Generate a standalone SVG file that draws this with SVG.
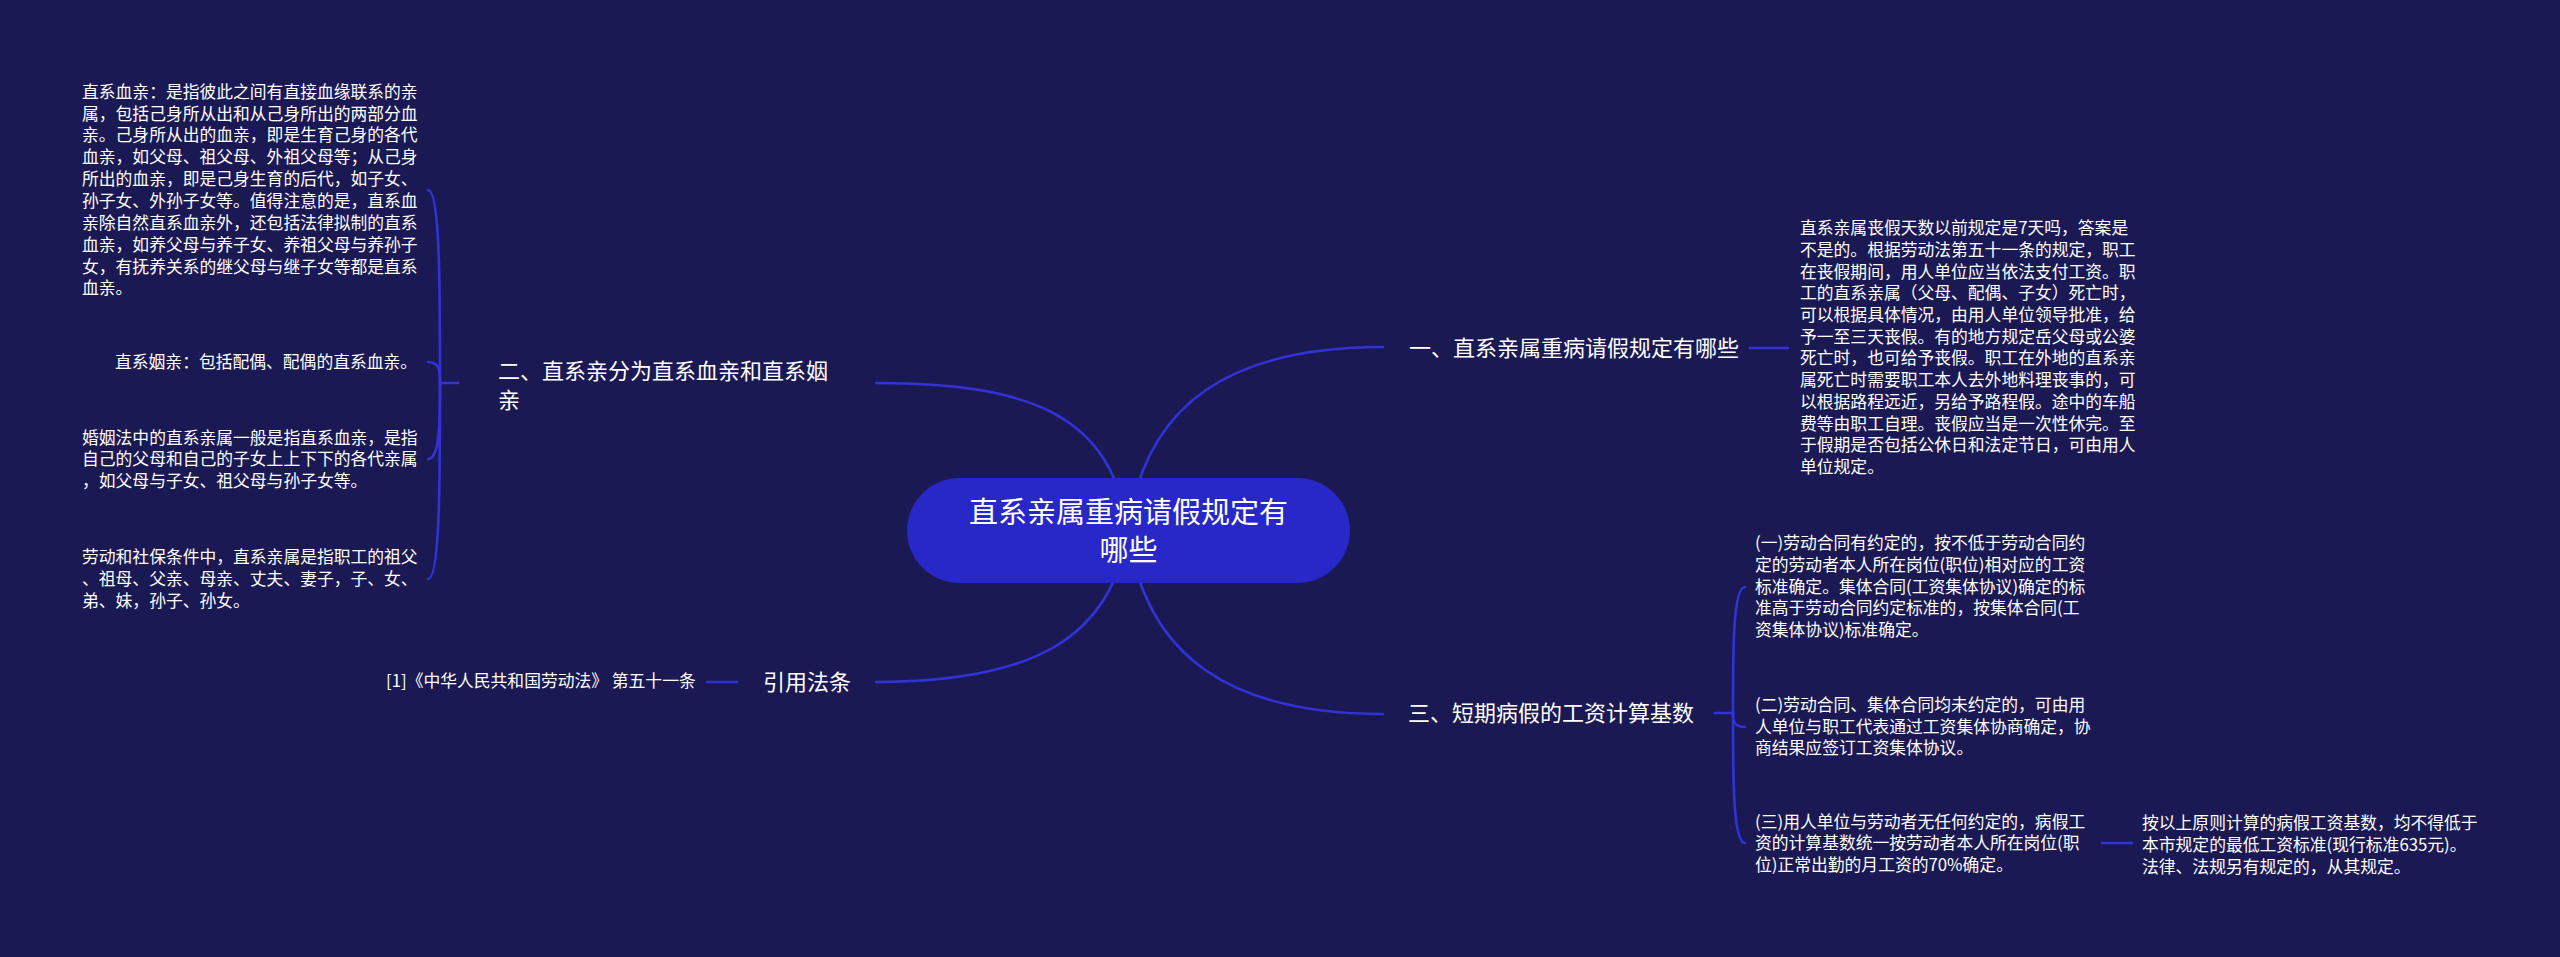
<svg xmlns="http://www.w3.org/2000/svg" width="2560" height="957" viewBox="0 0 2560 957">
<style>
.ln{fill:none;stroke:#3233d6;stroke-width:2.6;stroke-linecap:round}
.t{fill:#ffffff;font-family:"Noto Sans CJK SC","Liberation Sans",sans-serif}
.s{font-size:16.8px}
.m{font-size:22px}
.c{font-size:29px}
</style>
<rect x="0" y="0" width="2560" height="957" fill="#1b1953"/>
<g id="connectors">
<path class="ln" d="M1128 530 C1112 415 1030 383 876 383"/>
<path class="ln" d="M1128 530 C1145 400 1235 347 1383 347"/>
<path class="ln" d="M1128 530 C1112 640 1030 682 876 682"/>
<path class="ln" d="M1128 530 C1145 660 1235 714 1383 714"/>
<path class="ln" d="M458 383 H440"/>
<path class="ln" d="M440 383 C440 286 440 190 428 190"/>
<path class="ln" d="M440 383 C440 372 440 362 428 362"/>
<path class="ln" d="M440 383 C440 421 440 459 428 459"/>
<path class="ln" d="M440 383 C440 481 440 579 428 579"/>
<path class="ln" d="M737 682 H707"/>
<path class="ln" d="M1750 348 H1788"/>
<path class="ln" d="M1715 713 H1733"/>
<path class="ln" d="M1733 713 C1733 650 1733 587 1745 587"/>
<path class="ln" d="M1733 713 C1733 720 1733 727 1745 727"/>
<path class="ln" d="M1733 713 C1733 778 1733 843 1745 843"/>
<path class="ln" d="M2102 843 H2132"/>
</g>
<g id="root">
<rect x="907" y="478" width="443" height="105" rx="52.5" fill="#2828c8"/>
<text class="t c" text-anchor="middle"><tspan x="1128.5" y="523">直系亲属重病请假规定有</tspan><tspan x="1128.5" y="561">哪些</tspan></text>
</g>
<g id="n2">
<text class="t m"><tspan x="498" y="379">二、直系亲分为直系血亲和直系姻</tspan><tspan x="498" y="408">亲</tspan></text>
</g>
<g id="n2a">
<text class="t s">
<tspan x="82" y="97.7">直系血亲：是指彼此之间有直接血缘联系的亲</tspan>
<tspan x="82" y="119.6">属，包括己身所从出和从己身所出的两部分血</tspan>
<tspan x="82" y="141.4">亲。己身所从出的血亲，即是生育己身的各代</tspan>
<tspan x="82" y="163.3">血亲，如父母、祖父母、外祖父母等；从己身</tspan>
<tspan x="82" y="185.1">所出的血亲，即是己身生育的后代，如子女、</tspan>
<tspan x="82" y="207">孙子女、外孙子女等。值得注意的是，直系血</tspan>
<tspan x="82" y="228.8">亲除自然直系血亲外，还包括法律拟制的直系</tspan>
<tspan x="82" y="250.7">血亲，如养父母与养子女、养祖父母与养孙子</tspan>
<tspan x="82" y="272.5">女，有抚养关系的继父母与继子女等都是直系</tspan>
<tspan x="82" y="294.4">血亲。</tspan>
</text>
</g>
<g id="n2b">
<text class="t s" x="115" y="368">直系姻亲：包括配偶、配偶的直系血亲。</text>
</g>
<g id="n2c">
<text class="t s">
<tspan x="82" y="443.5">婚姻法中的直系亲属一般是指直系血亲，是指</tspan>
<tspan x="82" y="465.3">自己的父母和自己的子女上上下下的各代亲属</tspan>
<tspan x="82" y="487.2">，如父母与子女、祖父母与孙子女等。</tspan>
</text>
</g>
<g id="n2d">
<text class="t s">
<tspan x="82" y="563">劳动和社保条件中，直系亲属是指职工的祖父</tspan>
<tspan x="82" y="585">、祖母、父亲、母亲、丈夫、妻子，子、女、</tspan>
<tspan x="82" y="607">弟、妹，孙子、孙女。</tspan>
</text>
</g>
<g id="n4">
<text class="t m" x="763" y="690">引用法条</text>
</g>
<g id="n4a">
<text class="t s" x="386" y="687">[1]《中华人民共和国劳动法》 第五十一条</text>
</g>
<g id="n1">
<text class="t m" x="1409" y="356">一、直系亲属重病请假规定有哪些</text>
</g>
<g id="n1a">
<text class="t s">
<tspan x="1800" y="234">直系亲属丧假天数以前规定是7天吗，答案是</tspan>
<tspan x="1800" y="255.7">不是的。根据劳动法第五十一条的规定，职工</tspan>
<tspan x="1800" y="277.5">在丧假期间，用人单位应当依法支付工资。职</tspan>
<tspan x="1800" y="299.2">工的直系亲属（父母、配偶、子女）死亡时，</tspan>
<tspan x="1800" y="320.9">可以根据具体情况，由用人单位领导批准，给</tspan>
<tspan x="1800" y="342.7">予一至三天丧假。有的地方规定岳父母或公婆</tspan>
<tspan x="1800" y="364.4">死亡时，也可给予丧假。职工在外地的直系亲</tspan>
<tspan x="1800" y="386.1">属死亡时需要职工本人去外地料理丧事的，可</tspan>
<tspan x="1800" y="407.8">以根据路程远近，另给予路程假。途中的车船</tspan>
<tspan x="1800" y="429.6">费等由职工自理。丧假应当是一次性休完。至</tspan>
<tspan x="1800" y="451.3">于假期是否包括公休日和法定节日，可由用人</tspan>
<tspan x="1800" y="473">单位规定。</tspan>
</text>
</g>
<g id="n3">
<text class="t m" x="1408" y="721">三、短期病假的工资计算基数</text>
</g>
<g id="n3a">
<text class="t s">
<tspan x="1755" y="549">(一)劳动合同有约定的，按不低于劳动合同约</tspan>
<tspan x="1755" y="570.8">定的劳动者本人所在岗位(职位)相对应的工资</tspan>
<tspan x="1755" y="592.6">标准确定。集体合同(工资集体协议)确定的标</tspan>
<tspan x="1755" y="614.4">准高于劳动合同约定标准的，按集体合同(工</tspan>
<tspan x="1755" y="636.2">资集体协议)标准确定。</tspan>
</text>
</g>
<g id="n3b">
<text class="t s">
<tspan x="1755" y="711">(二)劳动合同、集体合同均未约定的，可由用</tspan>
<tspan x="1755" y="733">人单位与职工代表通过工资集体协商确定，协</tspan>
<tspan x="1755" y="754">商结果应签订工资集体协议。</tspan>
</text>
</g>
<g id="n3c">
<text class="t s">
<tspan x="1755" y="828">(三)用人单位与劳动者无任何约定的，病假工</tspan>
<tspan x="1755" y="849">资的计算基数统一按劳动者本人所在岗位(职</tspan>
<tspan x="1755" y="871">位)正常出勤的月工资的70%确定。</tspan>
</text>
</g>
<g id="n3c1">
<text class="t s">
<tspan x="2142" y="829">按以上原则计算的病假工资基数，均不得低于</tspan>
<tspan x="2142" y="851">本市规定的最低工资标准(现行标准635元)。</tspan>
<tspan x="2142" y="873">法律、法规另有规定的，从其规定。</tspan>
</text>
</g>
</svg>
